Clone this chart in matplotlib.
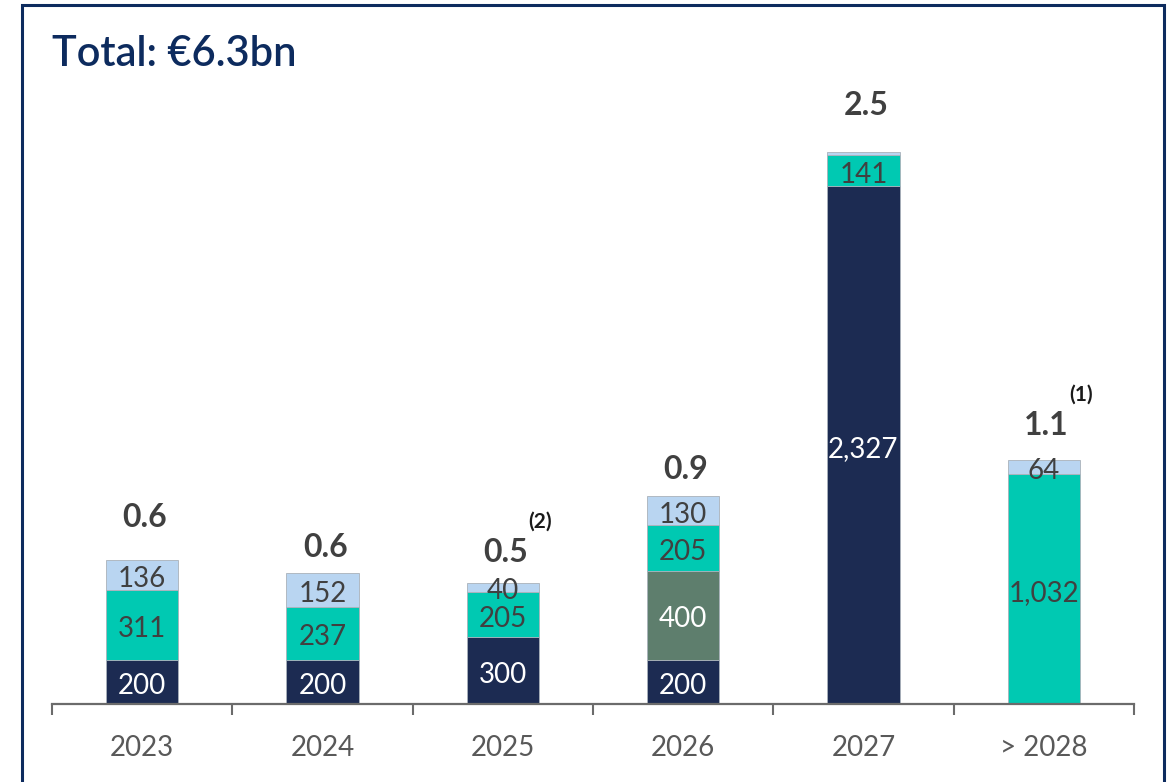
import numpy as np
import matplotlib
matplotlib.use("Agg")
import matplotlib.pyplot as plt
from matplotlib.patches import Rectangle

plt.rcParams['font.family'] = ['Lato', 'DejaVu Sans']

# data (EUR m)
years = ['2023', '2024', '2025', '2026', '2027', '> 2028']
navy_vals = [200, 200, 300, 200, 2327, 0]
green_vals = [0, 0, 0, 400, 0, 0]
teal_vals = [311, 237, 205, 205, 141, 1032]
light_vals = [136, 152, 40, 130, 12, 64]
totals = ['0.6', '0.6', '0.5', '0.9', '2.5', '1.1']
notes = ['', '', '(2)', '', '', '(1)']

NAVY = '#1c2b52'
GREEN = '#5e7e6d'
TEAL = '#00c9b2'
LIGHT = '#b9d5f1'
DARK_TXT = '#404040'

fig = plt.figure(figsize=(11.69, 7.82), dpi=100)
ax = fig.add_axes([52/1169, 78/782, 1082/1169, 604/782])

x = np.arange(len(years))
w = 0.4
bottom = np.zeros(len(years))
layers = [(navy_vals, NAVY, 'white'), (green_vals, GREEN, 'white'),
          (teal_vals, TEAL, DARK_TXT), (light_vals, LIGHT, DARK_TXT)]
for vals, col, tcol in layers:
    vals = np.array(vals)
    ax.bar(x, vals, w, bottom=bottom, color=col, edgecolor='#a9b1ba', linewidth=0.6)
    for i, v in enumerate(vals):
        if v >= 30:
            ax.annotate(f"{v:,}", (x[i], bottom[i] + v/2), xytext=(0, -3),
                        textcoords='offset points', ha='center', va='center',
                        fontsize=20, color=tcol)
    bottom = bottom + vals

# total labels above bars
offsets = [31, 18, 22, 19, 34, 25]
for i in range(len(years)):
    ax.annotate(totals[i], (x[i], bottom[i]), xytext=(2, offsets[i]),
                textcoords='offset points', ha='center', va='center',
                fontsize=23, fontweight='bold', color=DARK_TXT)
    if notes[i]:
        ax.annotate(notes[i], (x[i], bottom[i]), xytext=(27, offsets[i] + 22),
                    textcoords='offset points', ha='center', va='center',
                    fontsize=15, fontweight='bold', color='#1a1a1a')

ax.set_xlim(-0.5, len(years) - 0.5)
ax.set_ylim(0, 2715)
ax.set_yticks([])
for s in ['top', 'right', 'left']:
    ax.spines[s].set_visible(False)
ax.spines['bottom'].set_color('#6b6b6b')
ax.spines['bottom'].set_linewidth(1.6)
ax.set_xticks(x)
ax.set_xticklabels(years, fontsize=20, color='#595959')
ax.tick_params(axis='x', which='major', length=0, pad=22)
ax.set_xticks(np.arange(-0.5, len(years)), minor=True)
ax.tick_params(axis='x', which='minor', length=8, width=1.5, color='#6b6b6b')

fig.text(52/1169, 1 - 54/782, 'Total: €6.3bn', fontsize=30, color='#0d2b5e',
         fontweight='semibold', ha='left', va='center')

fig.patches.append(Rectangle((22/1169, -0.02), 1142/1169, 1 - 5/782 + 0.02,
                             transform=fig.transFigure, fill=False,
                             edgecolor='#0d2b5e', linewidth=2.2))

fig.savefig('out.png', dpi=100)
